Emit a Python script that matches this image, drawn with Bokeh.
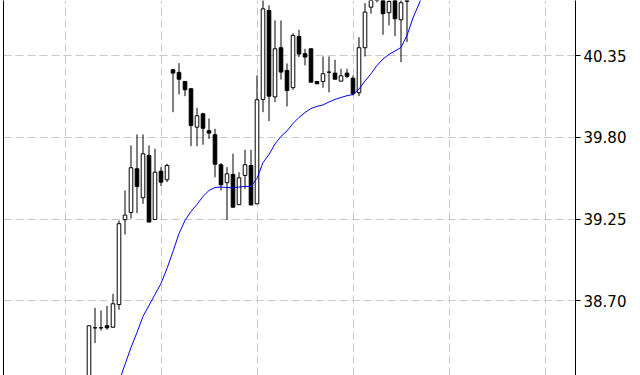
from bokeh.plotting import figure
from bokeh.models import (Range1d, FixedTicker, LinearAxis, Grid, ColumnDataSource,
                          PrintfTickFormatter)
from bokeh.embed import file_html
from bokeh.resources import INLINE

# ---- data ----
bar_index = list(range(54))
open_ = [37.928, 38.517, 38.517, 38.532, 38.522, 38.675, 39.246, 39.295, 39.589, 39.394,
         39.679, 39.248, 39.573, 39.515, 40.256, 40.238, 40.177, 40.128, 39.869, 39.959,
         39.845, 39.818, 39.616, 39.495, 39.551, 39.347, 39.544, 39.611, 39.353, 40.056,
         40.655, 40.073, 40.404, 40.251, 40.135, 40.480, 40.364, 40.397, 40.177, 40.177,
         40.239, 40.233, 40.179, 40.233, 40.199, 40.101, 40.404, 40.677, 40.749, 40.756,
         40.640, 40.756, 40.592, 40.716]
high = [38.532, 38.653, 38.635, 38.666, 38.747, 39.241, 39.443, 39.746, 39.820, 39.820,
        39.746, 39.724, 39.600, 39.623, 40.256, 40.300, 40.177, 40.128, 40.000, 39.966,
        39.928, 39.858, 39.627, 39.600, 39.690, 39.566, 39.717, 39.717, 40.217, 40.756,
        40.689, 40.588, 40.588, 40.298, 40.502, 40.525, 40.397, 40.397, 40.177, 40.345,
        40.345, 40.323, 40.262, 40.262, 40.217, 40.475, 40.704, 40.790, 40.891, 40.790,
        40.756, 40.790, 40.756, 40.857]
low = [37.827, 38.415, 38.500, 38.505, 38.518, 38.640, 39.147, 39.254, 39.291, 39.353,
       39.230, 39.248, 39.472, 39.499, 39.970, 40.089, 40.078, 39.741, 39.741, 39.751,
       39.791, 39.532, 39.443, 39.244, 39.330, 39.347, 39.454, 39.345, 39.353, 39.970,
       39.910, 40.038, 40.190, 40.009, 40.121, 40.341, 40.285, 40.172, 40.161, 40.135,
       40.103, 40.192, 40.179, 40.199, 40.083, 40.078, 40.345, 40.633, 40.709, 40.491,
       40.554, 40.482, 40.307, 40.442]
close = [38.532, 38.519, 38.519, 38.518, 38.680, 39.219, 39.277, 39.596, 39.470, 39.690,
         39.230, 39.566, 39.499, 39.611, 40.233, 40.192, 40.121, 39.881, 39.946, 39.862,
         39.829, 39.620, 39.481, 39.555, 39.330, 39.528, 39.616, 39.345, 40.054, 40.666,
         40.078, 40.397, 40.240, 40.116, 40.487, 40.361, 40.341, 40.172, 40.161, 40.229,
         40.240, 40.192, 40.215, 40.211, 40.094, 40.404, 40.644, 40.743, 40.857, 40.633,
         40.716, 40.599, 40.707, 40.823]

ma_index = list(range(5, 57))
ma_values = [38.157, 38.271, 38.386, 38.487, 38.595, 38.669, 38.743, 38.817, 38.918, 39.032,
             39.153, 39.241, 39.302, 39.349, 39.403, 39.443, 39.463, 39.466, 39.463, 39.461,
             39.466, 39.470, 39.470, 39.524, 39.631, 39.685, 39.756, 39.807, 39.844, 39.894,
             39.935, 39.968, 39.995, 40.009, 40.019, 40.039, 40.056, 40.069, 40.081, 40.089,
             40.126, 40.180, 40.229, 40.285, 40.328, 40.359, 40.382, 40.406, 40.487, 40.605,
             40.699, 40.803]

y_ticks = [38.70, 39.25, 39.80, 40.35]
x_grid_ticks = [-4, 12, 28, 44, 60, 76]

# ---- view window ----
x_start, x_end = -14.25, 81.083
y_start, y_end = 38.197, 40.722

body_top = [max(o, c) for o, c in zip(open_, close)]
body_bot = [min(o, c) for o, c in zip(open_, close)]
fills = ["white" if c >= o else "black" for o, c in zip(open_, close)]

src = ColumnDataSource(dict(x=bar_index, high=high, low=low, top=body_top,
                            bottom=body_bot, fill=fills))
ma_src = ColumnDataSource(dict(x=ma_index, y=ma_values))

p = figure(width=640, height=375, output_backend="svg", toolbar_location=None,
           x_range=Range1d(x_start, x_end), y_range=Range1d(y_start, y_end),
           x_axis_location=None, y_axis_location="right",
           min_border_left=3, min_border_right=65, min_border_top=0, min_border_bottom=0)
p.outline_line_color = None
p.background_fill_color = "white"
p.border_fill_color = "white"

# right price axis
ya = p.yaxis[0]
ya.ticker = FixedTicker(ticks=y_ticks)
ya.formatter = PrintfTickFormatter(format="%.2f")
ya.axis_line_color = "black"
ya.major_tick_line_color = "black"
ya.major_tick_out = 5
ya.major_tick_in = 0
ya.minor_tick_line_color = None
ya.major_label_standoff = 3
ya.major_label_text_font = "DejaVu Sans"
ya.major_label_text_font_size = "15px"
ya.major_label_text_color = "black"

# left frame line
la = LinearAxis(ticker=FixedTicker(ticks=[]), major_label_text_font_size="0px",
                major_tick_line_color=None, minor_tick_line_color=None,
                major_tick_out=0, major_tick_in=0, major_label_standoff=0,
                axis_line_color="black")
p.add_layout(la, "left")

# grids
xg = [g for g in p.center if isinstance(g, Grid) and g.dimension == 0]
if xg:
    for g in xg:
        g.ticker = FixedTicker(ticks=x_grid_ticks)
else:
    p.add_layout(Grid(dimension=0, ticker=FixedTicker(ticks=x_grid_ticks)))
for g in [g for g in p.center if isinstance(g, Grid)]:
    g.grid_line_color = "#c8c8c8"
    g.grid_line_dash = "8 4"
    g.grid_line_width = 1

# candles
p.segment(x0="x", y0="high", x1="x", y1="low", source=src, line_color="black", line_width=1)
p.vbar(x="x", width=0.6, top="top", bottom="bottom", source=src,
       fill_color="fill", line_color="black", line_width=1)

# moving average
p.line(x="x", y="y", source=ma_src, line_color="#0000ff", line_width=1)

open("out.html", "w").write(file_html(p, INLINE))
